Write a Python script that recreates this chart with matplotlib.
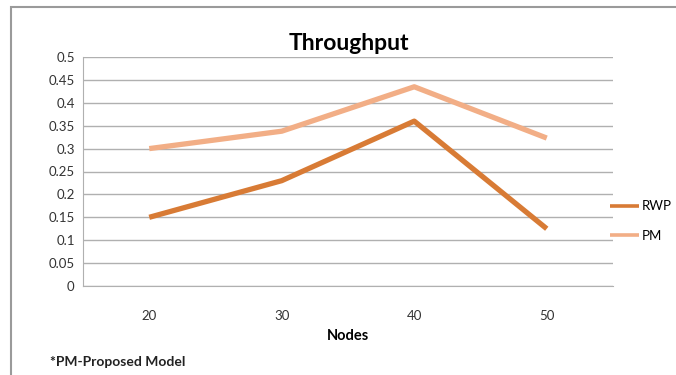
import matplotlib
matplotlib.use("Agg")
import matplotlib.pyplot as plt
from matplotlib.patches import Rectangle

nodes = ["20", "30", "40", "50"]
rwp = [0.15, 0.23, 0.36, 0.125]
pm = [0.30, 0.338, 0.435, 0.323]
yticks = [0, 0.05, 0.1, 0.15, 0.2, 0.25, 0.3, 0.35, 0.4, 0.45, 0.5]
ytick_labels = ["0", "0.05", "0.1", "0.15", "0.2", "0.25", "0.3", "0.35", "0.4", "0.45", "0.5"]

plt.rcParams['font.family'] = ['Lato', 'DejaVu Sans']

fig = plt.figure(figsize=(6.76, 3.75), dpi=100)
ax = fig.add_axes([83/676, 1-286/375, 530/676, 229/375])

x = list(range(len(nodes)))
ax.plot(x, rwp, color="#D87B35", lw=3.8, label="RWP", solid_capstyle="butt")
ax.plot(x, pm, color="#F2AE86", lw=3.8, label="PM", solid_capstyle="butt")

ax.set_xlim(-0.5, len(nodes) - 0.5)
ax.set_ylim(0, 0.5)
ax.set_yticks(yticks)
ax.set_yticklabels(ytick_labels, fontsize=9.5, color="#333333")
ax.set_xticks(x)
ax.set_xticklabels(nodes, fontsize=9.5, color="#333333")
ax.tick_params(length=0, pad=6)
ax.tick_params(axis='x', pad=17)
ax.grid(axis='y', color="#B0B0B0", lw=1)
ax.set_axisbelow(True)
for s in ["top", "right"]:
    ax.spines[s].set_visible(False)
ax.spines["left"].set_color("#B0B0B0")
ax.spines["bottom"].set_color("#B0B0B0")

ax.set_xlabel("Nodes", fontsize=10.5, fontweight="bold", labelpad=5)
fig.text(0.5 * (83 + 613) / 676 + 0.002, 1 - 43/375, "Throughput", ha="center", va="center",
         fontsize=16.5, fontweight="bold")
fig.text(50/676, 1 - 362/375, "*PM-Proposed Model", ha="left", va="center",
         fontsize=10, fontweight="bold", color="#222222")

leg = ax.legend(loc="center left", bbox_to_anchor=(603/676, 1 - 221/375),
                bbox_transform=fig.transFigure, frameon=False, fontsize=9.5,
                handlelength=2.2, handletextpad=0.2, labelspacing=1.3, borderpad=0)
for h in leg.get_lines():
    h.set_linewidth(2.6)

fig.patches.append(Rectangle((11/676, -0.05), 1.1, 1 - 7/375 + 0.05, transform=fig.transFigure,
                             fill=False, edgecolor="#9A9A9A", lw=1.5))

fig.savefig("out.png", dpi=100)
